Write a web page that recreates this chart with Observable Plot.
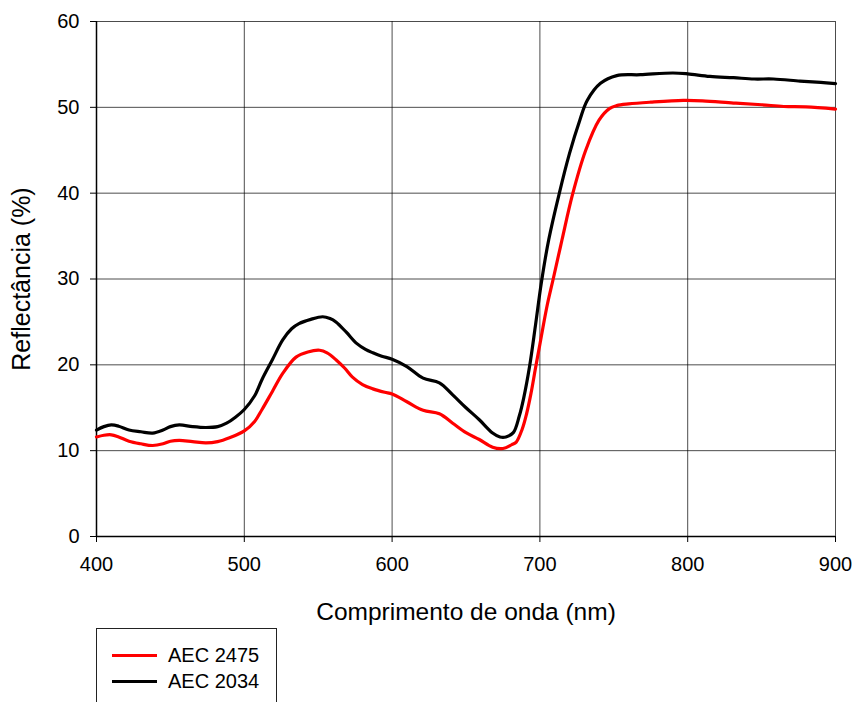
<!DOCTYPE html>
<html><head><meta charset="utf-8">
<script src="https://cdn.jsdelivr.net/npm/d3@7"></script>
<script src="https://cdn.jsdelivr.net/npm/@observablehq/plot@0.6"></script>
<style>
html,body{margin:0;padding:0;background:#fff;overflow:hidden;}
body{width:856px;height:702px;position:relative;font-family:"Liberation Sans",Arial,sans-serif;}
#legend{position:absolute;left:96px;top:628px;width:181px;height:90px;border:1.5px solid #222;box-sizing:border-box;background:#fff;}
.item{position:absolute;left:15px;height:26px;display:flex;align-items:center;font-size:20px;color:#000;}
.swatch{width:45px;height:3px;margin-right:11px;}
</style></head>
<body><div id="chart"></div><div id="legend"></div>
<script>
const seriesNames = ["AEC 2475", "AEC 2034"];
const seriesColors = ["#ff0000", "#000000"];
const xTicks = [400, 500, 600, 700, 800, 900];
const yTicks = [0, 10, 20, 30, 40, 50, 60];

const wl2475 = [400,405,410,415,422,430,438,445,450,456,465,474,482,490,500,507,512,519,526,535,543,551,556,562,568,573,580,587,595,600,610,621,632,641,650,659,668,675,681,684,688,691,694,697,700,702,705,709,715,722,731,740,747,752,760,775,797,810,831,850,865,880,900];
const r2475 = [11.6,11.8,11.85,11.6,11.1,10.8,10.6,10.8,11.1,11.2,11.05,10.9,11.05,11.5,12.3,13.4,14.8,16.9,19.0,20.9,21.5,21.7,21.4,20.6,19.6,18.6,17.7,17.2,16.8,16.6,15.7,14.7,14.3,13.2,12.1,11.3,10.4,10.25,10.7,11.0,12.5,14.3,16.7,19.6,22.4,24.3,27.0,30.0,34.6,39.8,45.0,48.5,49.85,50.2,50.4,50.6,50.8,50.75,50.5,50.3,50.1,50.05,49.8];

const wl2034 = [400,405,410,415,422,430,438,445,450,456,465,474,482,488,494,500,507,512,519,526,532,537,545,553,558,562,569,576,582,587,593,600,610,621,632,641,650,659,668,673,677,682,686,689,693,697,701,706,713,720,727,732,741,752,768,790,800,815,831,845,858,876,890,900];
const r2034 = [12.4,12.8,13.0,12.85,12.4,12.2,12.05,12.4,12.8,13.0,12.8,12.7,12.8,13.2,13.9,14.8,16.4,18.3,20.6,22.9,24.2,24.8,25.3,25.6,25.4,25.0,23.8,22.5,21.8,21.4,21.0,20.66,19.8,18.45,17.9,16.5,15.0,13.6,12.06,11.6,11.6,12.1,14.0,16.1,19.8,24.6,29.6,34.6,39.9,44.6,48.5,50.8,52.8,53.7,53.8,54.0,53.9,53.6,53.45,53.3,53.3,53.06,52.9,52.76];

const data = [
  ...wl2475.map((w, i) => ({wl: w, r: r2475[i], s: seriesNames[0]})),
  ...wl2034.map((w, i) => ({wl: w, r: r2034[i], s: seriesNames[1]}))
];

const font = "Liberation Sans, Arial, sans-serif";
const chart = Plot.plot({
  width: 856, height: 625,
  marginLeft: 96, marginRight: 21, marginTop: 21, marginBottom: 89,
  style: {fontFamily: font, fontSize: "20px", color: "#000", background: "#fff", overflow: "visible"},
  x: {domain: [400, 900]},
  y: {domain: [0, 60]},
  color: {domain: seriesNames, range: seriesColors},
  marks: [
    Plot.gridX(xTicks, {stroke: "#000", strokeOpacity: 0.7, strokeWidth: 1}),
    Plot.gridY(yTicks, {stroke: "#000", strokeOpacity: 0.7, strokeWidth: 1}),
    Plot.axisX(xTicks, {tickSize: 6, tickPadding: 14, fontSize: 20, label: null, tickFormat: d => String(d)}),
    Plot.axisY(yTicks, {tickSize: 6, tickPadding: 11, fontSize: 20, label: null, tickFormat: d => String(d)}),
    Plot.axisX([], {label: "Comprimento de onda (nm)", labelAnchor: "center", labelArrow: "none", labelOffset: 83, fontSize: 24.5, tickSize: 0}),
    Plot.axisY([], {label: "Reflectância (%)", labelAnchor: "center", labelArrow: "none", labelOffset: 84, fontSize: 25, tickSize: 0}),
    Plot.ruleX([400], {stroke: "#000", strokeWidth: 1.5}),
    Plot.ruleY([0], {stroke: "#000", strokeWidth: 1.5}),
    Plot.line(data, {x: "wl", y: "r", stroke: "s", z: "s", strokeWidth: 3.2, curve: "catmull-rom"})
  ]
});
document.getElementById("chart").appendChild(chart);

const legend = d3.select("#legend");
seriesNames.forEach((name, i) => {
  const item = legend.append("div").attr("class", "item").style("top", (13 + i * 26) + "px");
  item.append("div").attr("class", "swatch").style("background", seriesColors[i]);
  item.append("span").text(name);
});
</script>
</body></html>
